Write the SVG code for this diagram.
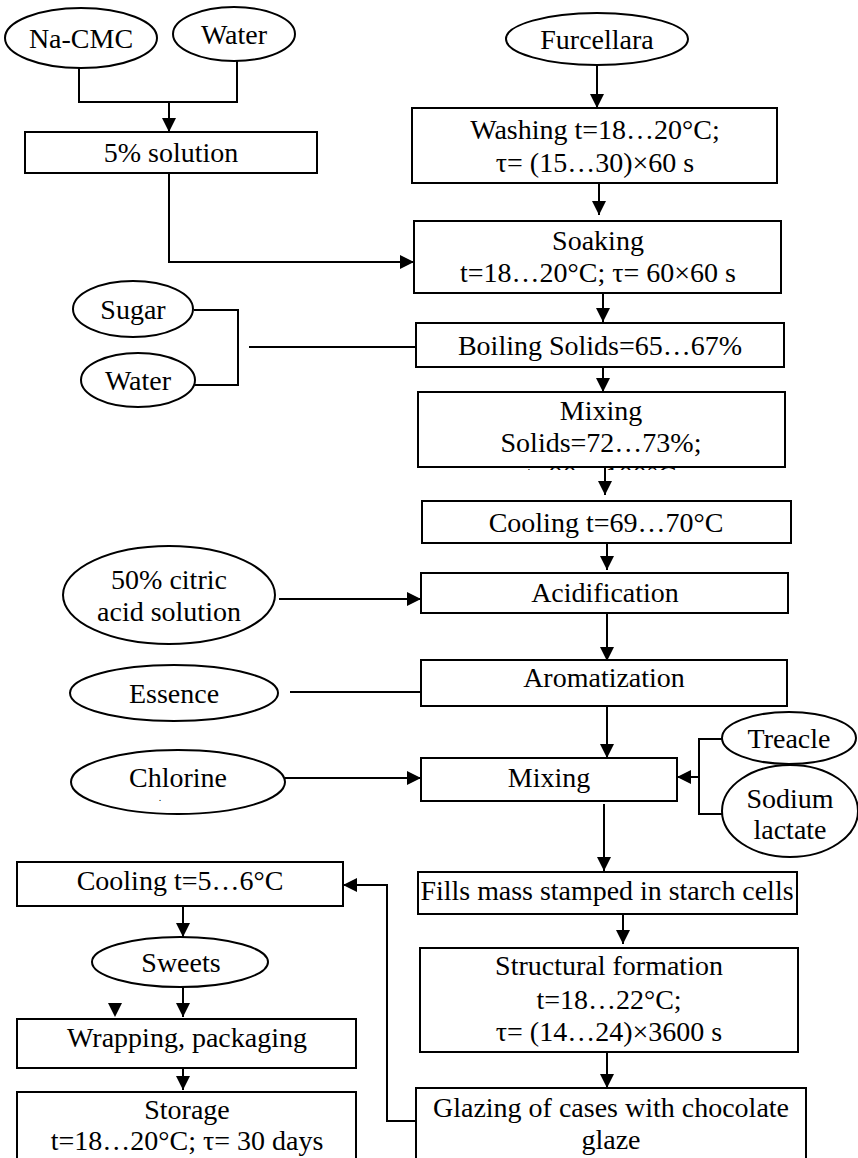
<svg xmlns="http://www.w3.org/2000/svg" width="858" height="1158" viewBox="0 0 858 1158">
<style>
.n rect, .n ellipse { fill: #fff; stroke: #000; stroke-width: 2; }
text { font-family: 'Liberation Serif', 'DejaVu Serif', serif; font-size: 28px; fill: #000; text-anchor: middle; }
.c path { fill: none; stroke: #000; stroke-width: 2; }
</style>
<defs>
<marker id="ah" viewBox="0 0 10 10" refX="10" refY="5" markerWidth="16" markerHeight="14" markerUnits="userSpaceOnUse" orient="auto"><path d="M0,0 L10,5 L0,10 z" fill="#000"/></marker>
<clipPath id="mixclip"><rect x="418" y="392" width="368" height="78"/></clipPath>
</defs>
<g class="c" id="connectors">
<path d="M79,68 V102 H237 V58"/>
<path d="M169,102 V132" marker-end="url(#ah)"/>
<path d="M597,65 V108" marker-end="url(#ah)"/>
<path d="M599,183 V215" marker-end="url(#ah)"/>
<path d="M169,173 V262 H414" marker-end="url(#ah)"/>
<path d="M603,293 V322" marker-end="url(#ah)"/>
<path d="M194,310 H238 V385 H195"/>
<path d="M249,347 H416"/>
<path d="M603,367 V392" marker-end="url(#ah)"/>
<path d="M605,467 V495" marker-end="url(#ah)"/>
<path d="M607,543 V570" marker-end="url(#ah)"/>
<path d="M279,599 H421" marker-end="url(#ah)"/>
<path d="M607,613 V661" marker-end="url(#ah)"/>
<path d="M290,692 H421"/>
<path d="M607,706 V758" marker-end="url(#ah)"/>
<path d="M285,778 H421" marker-end="url(#ah)"/>
<path d="M722,739 H699 V814 H722"/>
<path d="M699,777 H677" marker-end="url(#ah)"/>
<path d="M604,804 V871" marker-end="url(#ah)"/>
<path d="M623,914 V944" marker-end="url(#ah)"/>
<path d="M607,1052 V1088" marker-end="url(#ah)"/>
<path d="M416,1121 H387 V885 H343" marker-end="url(#ah)"/>
<path d="M183,906 V937" marker-end="url(#ah)"/>
<path d="M183,987 V1017" marker-end="url(#ah)"/>
<path d="M183,1068 V1090" marker-end="url(#ah)"/>
<polygon points="108,1003 122,1003 115,1017" fill="#000" stroke="none"/>
</g>
<g class="n" id="na-cmc"><ellipse cx="81" cy="38" rx="76" ry="30"/><text x="81" y="48">Na-CMC</text></g>
<g class="n" id="water1"><ellipse cx="234" cy="34" rx="61" ry="27"/><text x="234" y="44">Water</text></g>
<g class="n" id="solution"><rect x="25" y="132" width="292" height="41"/><text x="171" y="162">5% solution</text></g>
<g class="n" id="furcellara"><ellipse cx="597" cy="39" rx="91" ry="26"/><text x="597" y="49">Furcellara</text></g>
<g class="n" id="washing"><rect x="412" y="108" width="365" height="75"/><text x="595" y="139">Washing t=18…20°C;</text><text x="595" y="172">τ= (15…30)×60 s</text></g>
<g class="n" id="soaking"><rect x="414" y="221" width="367" height="72"/><text x="598" y="250">Soaking</text><text x="598" y="282">t=18…20°C; τ= 60×60 s</text></g>
<g class="n" id="sugar"><ellipse cx="133" cy="309" rx="60" ry="28"/><text x="133" y="319">Sugar</text></g>
<g class="n" id="water2"><ellipse cx="138" cy="380" rx="57" ry="27"/><text x="138" y="390">Water</text></g>
<g class="n" id="boiling"><rect x="416" y="323" width="368" height="44"/><text x="600" y="355">Boiling Solids=65…67%</text></g>
<g class="n" id="mixing1"><rect x="418" y="392" width="367" height="75"/><text x="601" y="420">Mixing</text><text x="601" y="452">Solids=72…73%;</text><text x="601" y="485" clip-path="url(#mixclip)">t=90…100°C</text></g>
<g class="n" id="cooling1"><rect x="422" y="501" width="369" height="42"/><text x="606" y="532">Cooling t=69…70°C</text></g>
<g class="n" id="citric"><ellipse cx="169" cy="595" rx="106" ry="49"/><text x="169" y="589">50% citric</text><text x="169" y="621">acid solution</text></g>
<g class="n" id="acidification"><rect x="421" y="573" width="367" height="40"/><text x="605" y="602">Acidification</text></g>
<g class="n" id="essence"><ellipse cx="174" cy="693" rx="104" ry="28"/><text x="174" y="703">Essence</text></g>
<g class="n" id="aromatization"><rect x="421" y="660" width="366" height="46"/><text x="604" y="687">Aromatization</text></g>
<g class="n" id="chlorine"><ellipse cx="178" cy="782" rx="107" ry="32"/><text x="178" y="787">Chlorine</text><text x="160" y="801" style="font-size:10px">.</text></g>
<g class="n" id="mixing2"><rect x="421" y="758" width="256" height="43"/><text x="549" y="787">Mixing</text></g>
<g class="n" id="treacle"><ellipse cx="789" cy="738" rx="67" ry="26"/><text x="789" y="748">Treacle</text></g>
<g class="n" id="sodium"><ellipse cx="790" cy="811" rx="68" ry="46"/><text x="790" y="808">Sodium</text><text x="790" y="839">lactate</text></g>
<g class="n" id="fills"><rect x="418" y="872" width="379" height="42"/><text x="607" y="900" textLength="373" lengthAdjust="spacingAndGlyphs">Fills mass stamped in starch cells</text></g>
<g class="n" id="structural"><rect x="420" y="948" width="378" height="104"/><text x="609" y="975">Structural formation</text><text x="609" y="1009">t=18…22°C;</text><text x="609" y="1041">τ= (14…24)×3600 s</text></g>
<g class="n" id="glazing"><rect x="416" y="1088" width="390" height="90"/><text x="611" y="1117">Glazing of cases with chocolate</text><text x="611" y="1149">glaze</text></g>
<g class="n" id="cooling2"><rect x="17" y="862" width="326" height="44"/><text x="180" y="890">Cooling t=5…6°C</text></g>
<g class="n" id="sweets"><ellipse cx="180" cy="962" rx="88" ry="25"/><text x="181" y="972">Sweets</text></g>
<g class="n" id="wrapping"><rect x="17" y="1019" width="339" height="49"/><text x="187" y="1047">Wrapping, packaging</text></g>
<g class="n" id="storage"><rect x="17" y="1092" width="339" height="90"/><text x="187" y="1119">Storage</text><text x="187" y="1150">t=18…20°C; τ= 30 days</text></g>
</svg>
